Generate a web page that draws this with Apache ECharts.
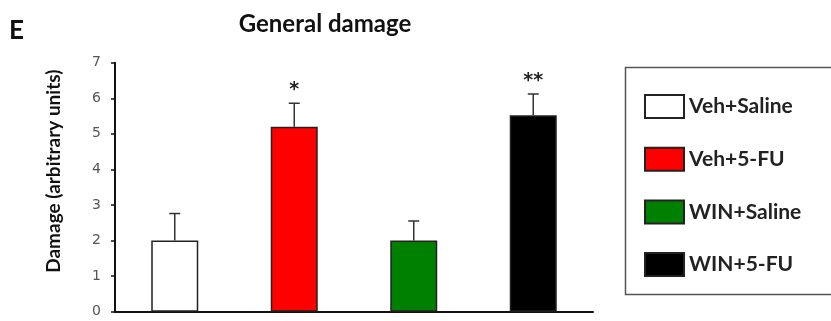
<!DOCTYPE html>
<html>
<head>
<meta charset="utf-8">
<script src="https://cdn.jsdelivr.net/npm/echarts@6/dist/echarts.min.js"></script>
<style>
html,body{margin:0;padding:0;background:#fff;}
#chart{width:831px;height:321px;}
</style>
</head>
<body>
<div id="chart"></div>
<script>
var categories = ['Veh+Saline', 'Veh+5-FU', 'WIN+Saline', 'WIN+5-FU'];
var means = [2.0, 5.2, 2.0, 5.52];
var errors = [0.76, 0.66, 0.55, 0.6];
var significance = ['', '*', '', '**'];
var colors = ['#ffffff', '#ff0000', '#008000', '#000000'];
var yTicks = [0, 1, 2, 3, 4, 5, 6, 7];

var chart = echarts.init(document.getElementById('chart'), null, {renderer: 'canvas'});

var barSeries = categories.map(function (name, i) {
  return {
    name: name,
    type: 'bar',
    stack: 'all',
    barWidth: 47,
    data: categories.map(function (c, j) { return j === i ? means[j] : '-'; }),
    itemStyle: {color: colors[i], borderColor: '#222', borderWidth: 1.5},
    z: 2
  };
});

var errData = categories.map(function (c, i) { return [i, means[i], means[i] + errors[i], significance[i]]; });

var errSeries = {
  type: 'custom',
  name: 'err',
  data: errData,
  z: 5,
  renderItem: function (params, api) {
    var x = api.value(0);
    var lo = api.coord([x, api.value(1)]);
    var hi = api.coord([x, api.value(2)]);
    var cap = 5.5;
    var children = [
      {type: 'line', shape: {x1: lo[0], y1: lo[1], x2: hi[0], y2: hi[1]}, style: {stroke: '#333', lineWidth: 1.5}},
      {type: 'line', shape: {x1: hi[0] - cap, y1: hi[1], x2: hi[0] + cap, y2: hi[1]}, style: {stroke: '#333', lineWidth: 1.5}}
    ];
    var s = api.value(3);
    if (s) {
      children.push({type: 'text', x: hi[0], y: hi[1] - 13,
        style: {text: s, fill: '#222', font: 'bold 19px DejaVu Sans', align: 'center', verticalAlign: 'middle', letterSpacing: 1}});
    }
    return {type: 'group', children: children};
  }
};

chart.setOption({
  animation: false,
  backgroundColor: '#ffffff',
  title: {
    text: 'General damage',
    left: 320, top: 7, textAlign: 'center',
    textStyle: {fontFamily: 'Lato', fontWeight: 'bold', fontSize: 24, color: '#111'}
  },
  graphic: [
    {type: 'text', left: 9, top: 18, style: {text: 'E', font: 'bold 26px Lato', fill: '#111'}},
    {type: 'rect', shape: {x: 625.5, y: 67.5, width: 300, height: 227}, style: {fill: 'none', stroke: '#555', lineWidth: 1.5}, z: 0}
  ],
  legend: {
    orient: 'vertical',
    left: 644, top: 94,
    padding: 0,
    icon: 'rect',
    itemWidth: 39, itemHeight: 23,
    itemGap: 27.7,
    itemTextGap: 12,
    data: categories,
    textStyle: {fontFamily: 'Lato', fontWeight: 'bold', fontSize: 21, color: '#222'},
    selectedMode: false
  },
  grid: {left: 115, right: 238, top: 62.7, bottom: 9.3, containLabel: false},
  xAxis: {
    type: 'category',
    data: categories,
    axisLine: {lineStyle: {color: '#111', width: 2}},
    axisTick: {show: false},
    axisLabel: {show: false},
    splitLine: {show: false}
  },
  yAxis: {
    type: 'value',
    min: 0, max: 7, interval: 1,
    name: 'Damage (arbitrary units)',
    nameLocation: 'middle',
    nameGap: 52,
    nameTextStyle: {fontFamily: 'Lato', fontWeight: 'bold', fontSize: 19, color: '#111', padding: [0, 0, 0, 32]},
    axisLine: {show: true, lineStyle: {color: '#111', width: 2}},
    axisTick: {show: true, length: 4, lineStyle: {color: '#111', width: 1.5}},
    axisLabel: {margin: 14, fontFamily: 'Verdana, DejaVu Sans', fontSize: 14, color: '#555',
      formatter: function (v) { return yTicks.indexOf(v) >= 0 ? String(v) : ''; }},
    splitLine: {show: false}
  },
  series: barSeries.concat([errSeries])
});
</script>
</body>
</html>
